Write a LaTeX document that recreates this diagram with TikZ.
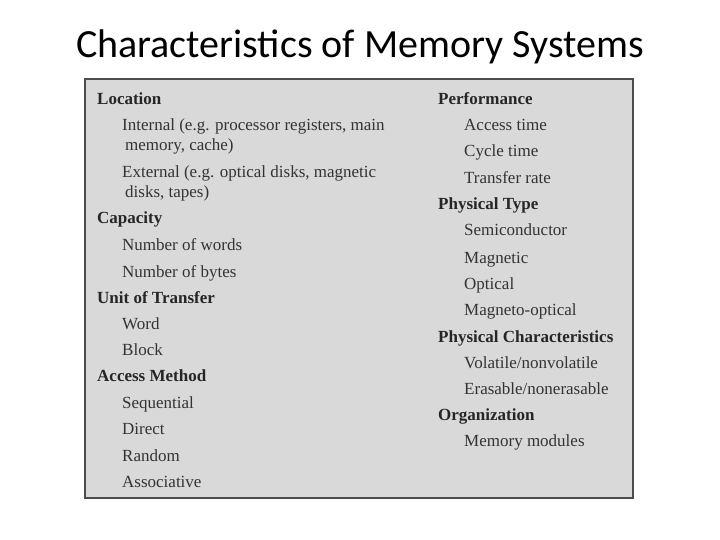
\documentclass[tikz,border=0pt]{standalone}
\usepackage{fontspec}
\setmainfont{Liberation Serif}
\newfontfamily\titlefont{Carlito}
\begin{document}
\begin{tikzpicture}[x=1pt,y=-1pt,
  hd/.style={anchor=base west,inner sep=0pt,font=\fontsize{17}{18}\selectfont\bfseries,text=black!85},
  it/.style={anchor=base west,inner sep=0pt,font=\fontsize{17}{18}\selectfont,text=black!80}]
\useasboundingbox (0,0) rectangle (720,540);
\node[font=\titlefont\fontsize{40}{44}\selectfont,anchor=base] (title) at (360,58) {Characteristics of Memory Systems};
\draw[line width=2pt,draw=black!70,fill=black!15] (85,79) rectangle (633,498);
\begin{scope}[yshift=-5pt]
\node[hd] (l1) at (97,100) {Location};
\node[it] (l2) at (122,126) {Internal (e.g. processor registers, main};
\node[it] (l3) at (125,146) {memory, cache)};
\node[it] (l4) at (122,173) {External (e.g. optical disks, magnetic};
\node[it] (l5) at (125,192) {disks, tapes)};
\node[hd] (l6) at (97,219) {Capacity};
\node[it] (l7) at (122,246) {Number of words};
\node[it] (l8) at (122,272) {Number of bytes};
\node[hd] (l9) at (97,298) {Unit of Transfer};
\node[it] (l10) at (122,324) {Word};
\node[it] (l11) at (122,350) {Block};
\node[hd] (l12) at (97,376) {Access Method};
\node[it] (l13) at (122,403) {Sequential};
\node[it] (l14) at (122,429) {Direct};
\node[it] (l15) at (122,456) {Random};
\node[it] (l16) at (122,482) {Associative};
\node[hd] (r1) at (438,100) {Performance};
\node[it] (r2) at (464,126) {Access time};
\node[it] (r3) at (464,152) {Cycle time};
\node[it] (r4) at (464,179) {Transfer rate};
\node[hd] (r5) at (438,205) {Physical Type};
\node[it] (r6) at (464,231) {Semiconductor};
\node[it] (r7) at (464,258) {Magnetic};
\node[it] (r8) at (464,284) {Optical};
\node[it] (r9) at (464,310) {Magneto-optical};
\node[hd] (r10) at (438,337) {Physical Characteristics};
\node[it] (r11) at (464,363) {Volatile/nonvolatile};
\node[it] (r12) at (464,389) {Erasable/nonerasable};
\node[hd] (r13) at (438,415) {Organization};
\node[it] (r14) at (464,441) {Memory modules};
\end{scope}
\end{tikzpicture}
\end{document}
